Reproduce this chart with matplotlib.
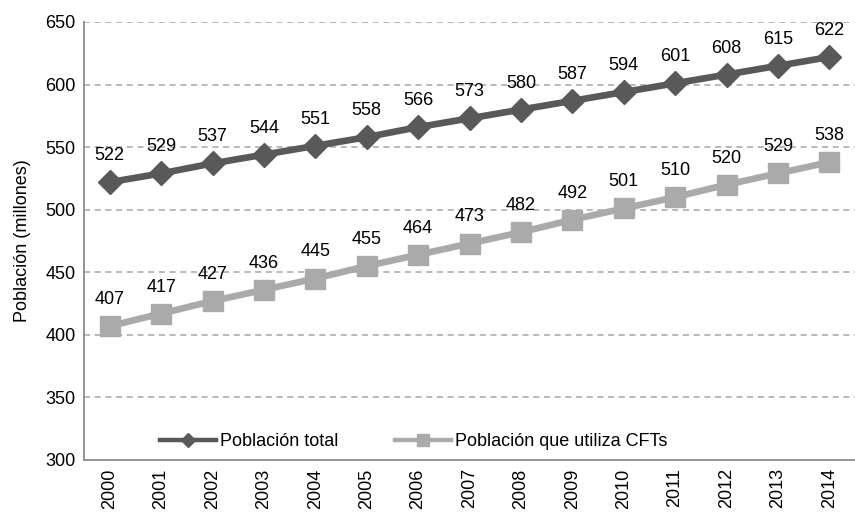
import matplotlib
matplotlib.use("Agg")
import matplotlib.pyplot as plt

# data
years = [str(y) for y in range(2000, 2015)]
pob_total = [522, 529, 537, 544, 551, 558, 566, 573, 580, 587, 594, 601, 608, 615, 622]
pob_cft = [407, 417, 427, 436, 445, 455, 464, 473, 482, 492, 501, 510, 520, 529, 538]

plt.rcParams['font.family'] = ['Liberation Sans', 'DejaVu Sans']
fs = 13

fig = plt.figure(figsize=(8.55, 5.13), dpi=100)
ax = fig.add_axes([84/855, 53/513, 771/855, 438/513])

x = range(len(years))
dark = '#595959'
light = '#aaaaaa'
ax.plot(x, pob_total, color=dark, lw=4.8, marker='D', ms=12, label='Población total', zorder=3)
ax.plot(x, pob_cft, color=light, lw=4.8, marker='s', ms=14, label='Población que utiliza CFTs', zorder=3)

for i in x:
    ax.annotate(str(pob_total[i]), (i, pob_total[i]), xytext=(0, 13), textcoords='offset points',
                ha='center', va='bottom', fontsize=fs)
    ax.annotate(str(pob_cft[i]), (i, pob_cft[i]), xytext=(0, 13), textcoords='offset points',
                ha='center', va='bottom', fontsize=fs)

ax.set_xlim(-0.5, len(years) - 0.5)
ax.set_ylim(300, 650)
ax.set_yticks(range(300, 651, 50))
ax.set_xticks(list(x))
ax.set_xticklabels(years, rotation=90)
ax.tick_params(axis='both', length=0, labelsize=fs, pad=6)
ax.set_ylabel('Población (millones)', fontsize=fs, labelpad=10)

ax.grid(axis='y', color='#a6a6a6', ls=(0, (4, 3)), lw=1.1)
ax.set_axisbelow(True)
for s in ['top', 'right']:
    ax.spines[s].set_visible(False)
for s in ['left', 'bottom']:
    ax.spines[s].set_color('#8c8c8c')
    ax.spines[s].set_linewidth(1.3)

leg = ax.legend(loc='center left', bbox_to_anchor=(160/855, (513-442)/513),
                bbox_transform=fig.transFigure, ncol=2, frameon=False,
                fontsize=fs, handlelength=3.1, handletextpad=0.25, columnspacing=3.1,
                borderpad=0, borderaxespad=0, markerscale=0.6)
for h in leg.legend_handles:
    h.set_linewidth(3.2)

fig.savefig('out.png', dpi=100)
